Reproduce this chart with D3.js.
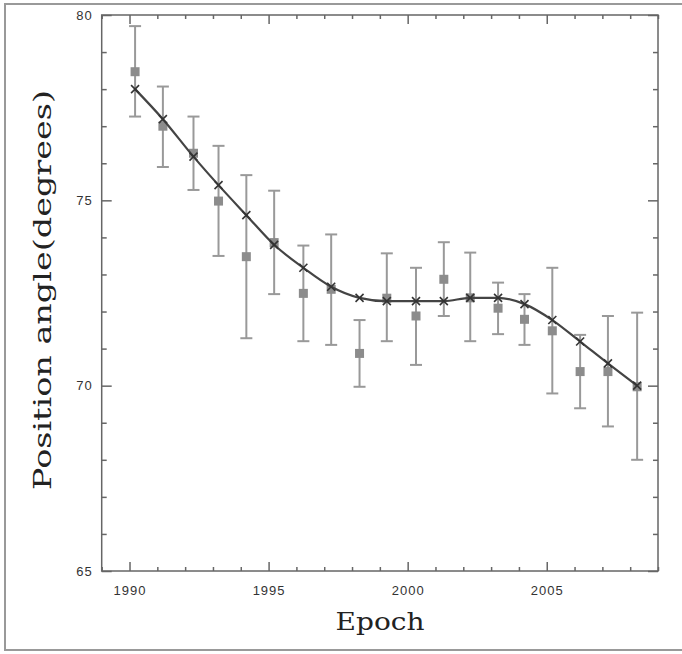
<!DOCTYPE html>
<html>
<head>
<meta charset="utf-8">
<script src="https://cdn.jsdelivr.net/npm/d3@7/dist/d3.min.js"></script>
<style>
  html, body { margin: 0; padding: 0; background: #fff; }
  svg { display: block; }
</style>
</head>
<body>
<svg id="chart" width="682" height="654"></svg>
<script>
// ---- data ----
const epochs = [1990.2, 1991.2, 1992.3, 1993.2, 1994.2, 1995.2, 1996.25, 1997.25, 1998.27, 1999.25,
                2000.3, 2001.3, 2002.25, 2003.25, 2004.2, 2005.2, 2006.2, 2007.2, 2008.25];
const observed = [78.47, 77.0, 76.27, 74.98, 73.48, 73.86, 72.49, 72.6, 70.87, 72.36,
                  71.88, 72.87, 72.37, 72.09, 71.79, 71.48, 70.38, 70.38, 69.97];
const errUpper = [79.7, 78.07, 77.26, 76.47, 75.68, 75.26, 73.78, 74.08, 71.77, 73.57,
                  73.18, 73.87, 73.59, 72.78, 72.47, 73.18, 71.37, 71.88, 71.97];
const errLower = [77.26, 75.9, 75.28, 73.5, 71.28, 72.47, 71.2, 71.1, 69.97, 71.2,
                  70.56, 71.88, 71.2, 71.39, 71.1, 69.79, 69.39, 68.9, 68.0];
const model = [78.0, 77.19, 76.18, 75.41, 74.6, 73.8, 73.18, 72.67, 72.37, 72.28,
               72.28, 72.28, 72.37, 72.37, 72.2, 71.77, 71.19, 70.6, 70.0];
const xTickLabels = [1990, 1995, 2000, 2005];
const yTickLabels = [65, 70, 75, 80];
const xDomain = [1989, 2009];
const yDomain = [65, 80];
const xTitle = "Epoch";
const yTitle = "Position angle(degrees)";

// ---- layout ----
const svg = d3.select("#chart");
const L = 101.7, R = 658, T = 15, B = 571;
const x = d3.scaleLinear().domain(xDomain).range([L, R]);
const y = d3.scaleLinear().domain(yDomain).range([B, T]);

// outer frame of the figure
svg.append("path")
  .attr("d", "M682,4 L5,4 L5,650 L682,650")
  .attr("fill", "none").attr("stroke", "#999").attr("stroke-width", 2);

const axisColor = "#666";
const xMinor = d3.range(xDomain[0], xDomain[1] + 1);
const yMinor = d3.range(yDomain[0], yDomain[1] + 1);

function styleAxis(g) {
  g.select(".domain").remove();
  g.selectAll(".tick line").attr("stroke", axisColor).attr("stroke-width", 1.5);
  g.selectAll(".tick text").attr("fill", "#333")
    .attr("font-family", "'Liberation Sans', Arial, sans-serif").attr("font-size", 13);
}

// bottom axis (ticks inward)
const gB = svg.append("g").attr("transform", `translate(0,${B})`)
  .call(d3.axisBottom(x).tickValues(xMinor).tickSizeInner(-4).tickSizeOuter(0).tickPadding(15)
    .tickFormat(d => xTickLabels.includes(d) ? d : ""));
styleAxis(gB);
gB.selectAll(".tick").filter(d => xTickLabels.includes(d)).select("line").attr("y2", -9);
gB.selectAll(".tick text").attr("letter-spacing", 1);

// top axis
const gT = svg.append("g").attr("transform", `translate(0,${T})`)
  .call(d3.axisTop(x).tickValues(xMinor).tickSizeInner(-4).tickSizeOuter(0).tickFormat(""));
styleAxis(gT);
gT.selectAll(".tick").filter(d => xTickLabels.includes(d)).select("line").attr("y2", 9);

// left axis
const gL = svg.append("g").attr("transform", `translate(${L},0)`)
  .call(d3.axisLeft(y).tickValues(yMinor).tickSizeInner(-5).tickSizeOuter(0).tickPadding(9)
    .tickFormat(d => yTickLabels.includes(d) ? d : ""));
styleAxis(gL);
gL.selectAll(".tick").filter(d => yTickLabels.includes(d)).select("line").attr("x2", 10);
gL.selectAll(".tick text").attr("letter-spacing", 1);

// right axis
const gR = svg.append("g").attr("transform", `translate(${R},0)`)
  .call(d3.axisRight(y).tickValues(yMinor).tickSizeInner(-5).tickSizeOuter(0).tickFormat(""));
styleAxis(gR);
gR.selectAll(".tick").filter(d => yTickLabels.includes(d)).select("line").attr("x2", -10);

// plot frame
svg.append("rect").attr("x", L).attr("y", T).attr("width", R - L).attr("height", B - T)
  .attr("fill", "none").attr("stroke", axisColor).attr("stroke-width", 1.5);

// data table
const data = epochs.map((e, i) => ({e, obs: observed[i], hi: errUpper[i], lo: errLower[i], m: model[i]}));

// error bars
const eb = svg.append("g").attr("stroke", "#999").attr("stroke-width", 2).attr("fill", "none");
data.forEach(d => {
  const cx = x(d.e);
  eb.append("line").attr("x1", cx).attr("x2", cx).attr("y1", y(d.hi)).attr("y2", y(d.lo));
  eb.append("line").attr("x1", cx - 6).attr("x2", cx + 6).attr("y1", y(d.hi)).attr("y2", y(d.hi));
  eb.append("line").attr("x1", cx - 6).attr("x2", cx + 6).attr("y1", y(d.lo)).attr("y2", y(d.lo));
});

// squares
svg.append("g").selectAll("rect").data(data).join("rect")
  .attr("x", d => x(d.e) - 4.5).attr("y", d => y(d.obs) - 4.5)
  .attr("width", 9).attr("height", 9).attr("fill", "#8c8c8c");

// model curve
svg.append("path").datum(data)
  .attr("d", d3.line().x(d => x(d.e)).y(d => y(d.m)).curve(d3.curveMonotoneX))
  .attr("fill", "none").attr("stroke", "#444").attr("stroke-width", 2.2);

// x markers
const xm = svg.append("g").attr("stroke", "#333").attr("stroke-width", 1.6);
data.forEach(d => {
  const cx = x(d.e), cy = y(d.m), s = 4;
  xm.append("line").attr("x1", cx - s).attr("y1", cy - s).attr("x2", cx + s).attr("y2", cy + s);
  xm.append("line").attr("x1", cx - s).attr("y1", cy + s).attr("x2", cx + s).attr("y2", cy - s);
});

// axis titles
svg.append("text").attr("x", 380).attr("y", 630).attr("text-anchor", "middle")
  .attr("font-family", "'DejaVu Serif', serif").attr("font-size", 25)
  .attr("textLength", 89).attr("lengthAdjust", "spacingAndGlyphs")
  .attr("fill", "#222").text(xTitle);

svg.append("text").attr("transform", "translate(51,290) rotate(-90)").attr("text-anchor", "middle")
  .attr("font-family", "'DejaVu Serif', serif").attr("font-size", 24)
  .attr("textLength", 400).attr("lengthAdjust", "spacingAndGlyphs")
  .attr("fill", "#222").text(yTitle);
</script>
</body>
</html>
